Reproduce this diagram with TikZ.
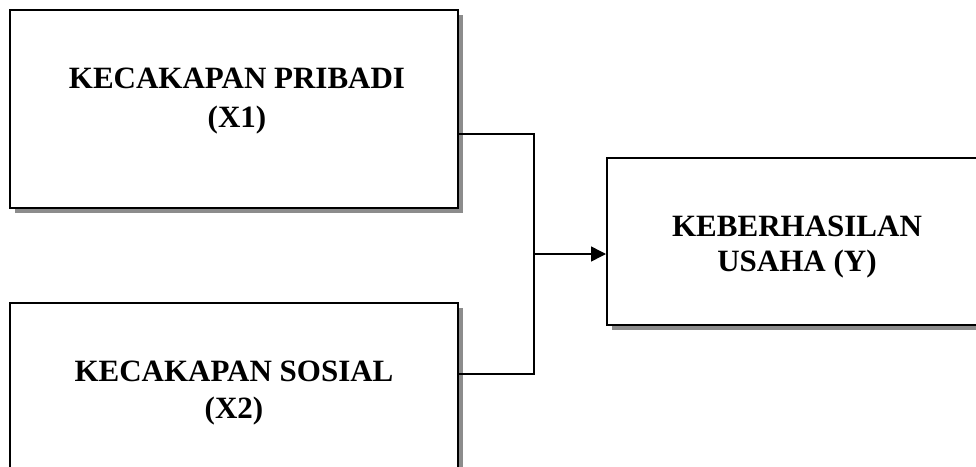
\documentclass[tikz,border=0pt]{standalone}
\usepackage{fontspec}
\setmainfont{Liberation Serif}
\usetikzlibrary{arrows.meta,shadows}
\begin{document}
\begin{tikzpicture}[x=1pt,y=-1pt,
  box/.style={draw=black,line width=2pt,fill=white,inner sep=0pt,
    drop shadow={shadow xshift=5pt,shadow yshift=-5pt,fill=black!45,opacity=1}},
  lbl/.style={align=center,inner sep=0pt},
  conn/.style={draw=black,line width=1.5pt}]
\useasboundingbox (0,0) rectangle (976,466);
\clip (0,0) rectangle (976,466);
\node[box,minimum width=448pt,minimum height=198pt] (b1) at (234,109) {};
\node[box,minimum width=448pt,minimum height=198pt] (b2) at (234,402) {};
\node[box,minimum width=380pt,minimum height=167pt] (b3) at (797,241.5) {};
\node[lbl,font=\bfseries\fontsize{31}{39}\selectfont] (t1) at (237,101.5) {KECAKAPAN PRIBADI\\(X1)};
\node[lbl,font=\bfseries\fontsize{31}{37}\selectfont] (t2) at (234,393) {KECAKAPAN SOSIAL\\(X2)};
\node[lbl,font=\bfseries\fontsize{31}{35}\selectfont] (t3) at (797,247) {KEBERHASILAN\\USAHA (Y)};
\coordinate (j) at (534,254);
\draw[conn] ([yshift=-25pt]b1.east) -| (j);
\draw[conn] ([yshift=28pt]b2.east) -| (j);
\draw[conn,-{Triangle[length=15pt,width=15pt]}] (j) -- (j -| b3.west);
\end{tikzpicture}
\end{document}
